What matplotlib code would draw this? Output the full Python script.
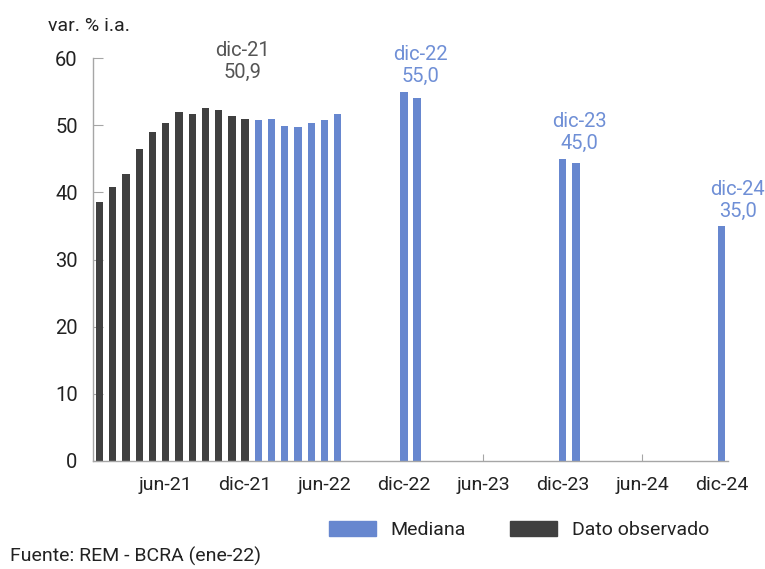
import matplotlib
matplotlib.use("Agg")
import matplotlib.pyplot as plt
from matplotlib.patches import Patch

plt.rcParams['font.family'] = ['Roboto', 'DejaVu Sans']

# meses del eje: ene-21 a dic-24
abrev = ['ene', 'feb', 'mar', 'abr', 'may', 'jun', 'jul', 'ago', 'sep', 'oct', 'nov', 'dic']
meses = [f'{m}-{a}' for a in ['21', '22', '23', '24'] for m in abrev]

# inflación observada (var. % i.a.)
observado_meses = meses[:12]
observado_valores = [38.6, 40.8, 42.8, 46.5, 49.0, 50.3, 51.9, 51.6, 52.6, 52.3, 51.4, 50.9]

# mediana de expectativas REM
mediana_meses = ['ene-22', 'feb-22', 'mar-22', 'abr-22', 'may-22', 'jun-22', 'jul-22',
                 'dic-22', 'ene-23', 'dic-23', 'ene-24', 'dic-24']
mediana_valores = [50.7, 50.9, 49.9, 49.7, 50.3, 50.8, 51.6, 55.0, 54.0, 45.0, 44.4, 35.0]

etiquetas_x = ['jun-21', 'dic-21', 'jun-22', 'dic-22', 'jun-23', 'dic-23', 'jun-24', 'dic-24']
destacados = ['dic-22', 'dic-23', 'dic-24']

azul = '#6787cf'
azul_texto = '#6f8fd6'
gris = '#404040'
texto = '#222222'

fig = plt.figure(figsize=(7.65, 5.69), dpi=100)
ax = fig.add_axes([93 / 765, 1 - 461 / 569, (728 - 93) / 765, (461 - 58) / 569])

pos = {m: i for i, m in enumerate(meses)}
ax.bar([pos[m] for m in observado_meses], observado_valores, width=0.55, color=gris, zorder=2)
ax.bar([pos[m] for m in mediana_meses], mediana_valores, width=0.55, color=azul, zorder=2)

ax.set_xlim(-0.5, len(meses) - 0.5)
ax.set_ylim(0, 60)
ax.set_yticks(range(0, 61, 10))
ax.set_xticks([pos[m] for m in etiquetas_x])
ax.set_xticklabels(etiquetas_x)

for s in ['top', 'right']:
    ax.spines[s].set_visible(False)
for s in ['left', 'bottom']:
    ax.spines[s].set_color('#a6a6a6')
    ax.spines[s].set_linewidth(1.0)
ax.tick_params(axis='y', direction='in', length=7, color='#a6a6a6', labelsize=14.5,
               labelcolor=texto, pad=11)
ax.tick_params(axis='x', direction='in', length=5, color='#a6a6a6', labelsize=14,
               labelcolor=texto, pad=11)

# etiquetas de valores
def coma(v):
    return f'{v:.1f}'.replace('.', ',')

ultimo = observado_meses[-1]
ax.text(pos[ultimo] - 0.2, observado_valores[-1] + 5.6, f'{ultimo}\n{coma(observado_valores[-1])}',
        ha='center', va='bottom', fontsize=14.5, color='#555555', linespacing=1.2)
for m in destacados:
    v = mediana_valores[mediana_meses.index(m)]
    ax.text(pos[m] + 1.25, v + 0.8, f'{m}\n{coma(v)}',
            ha='center', va='bottom', fontsize=14.5, color=azul_texto, linespacing=1.2)

fig.text(48 / 765, 1 - 26 / 569, 'var. % i.a.', fontsize=14, color=texto, va='center')
fig.text(10 / 765, 1 - 556 / 569, 'Fuente: REM - BCRA (ene-22)', fontsize=14, color=texto, va='center')

handles = [Patch(color=azul), Patch(color=gris)]
fig.legend(handles, ['Mediana', 'Dato observado'], loc='center', bbox_to_anchor=(519 / 765, 1 - 530 / 569),
           ncol=2, frameon=False, fontsize=14, handlelength=2.4, handleheight=0.8,
           columnspacing=2.3, handletextpad=0.75, labelcolor=texto)

fig.savefig('out.png', dpi=100)
